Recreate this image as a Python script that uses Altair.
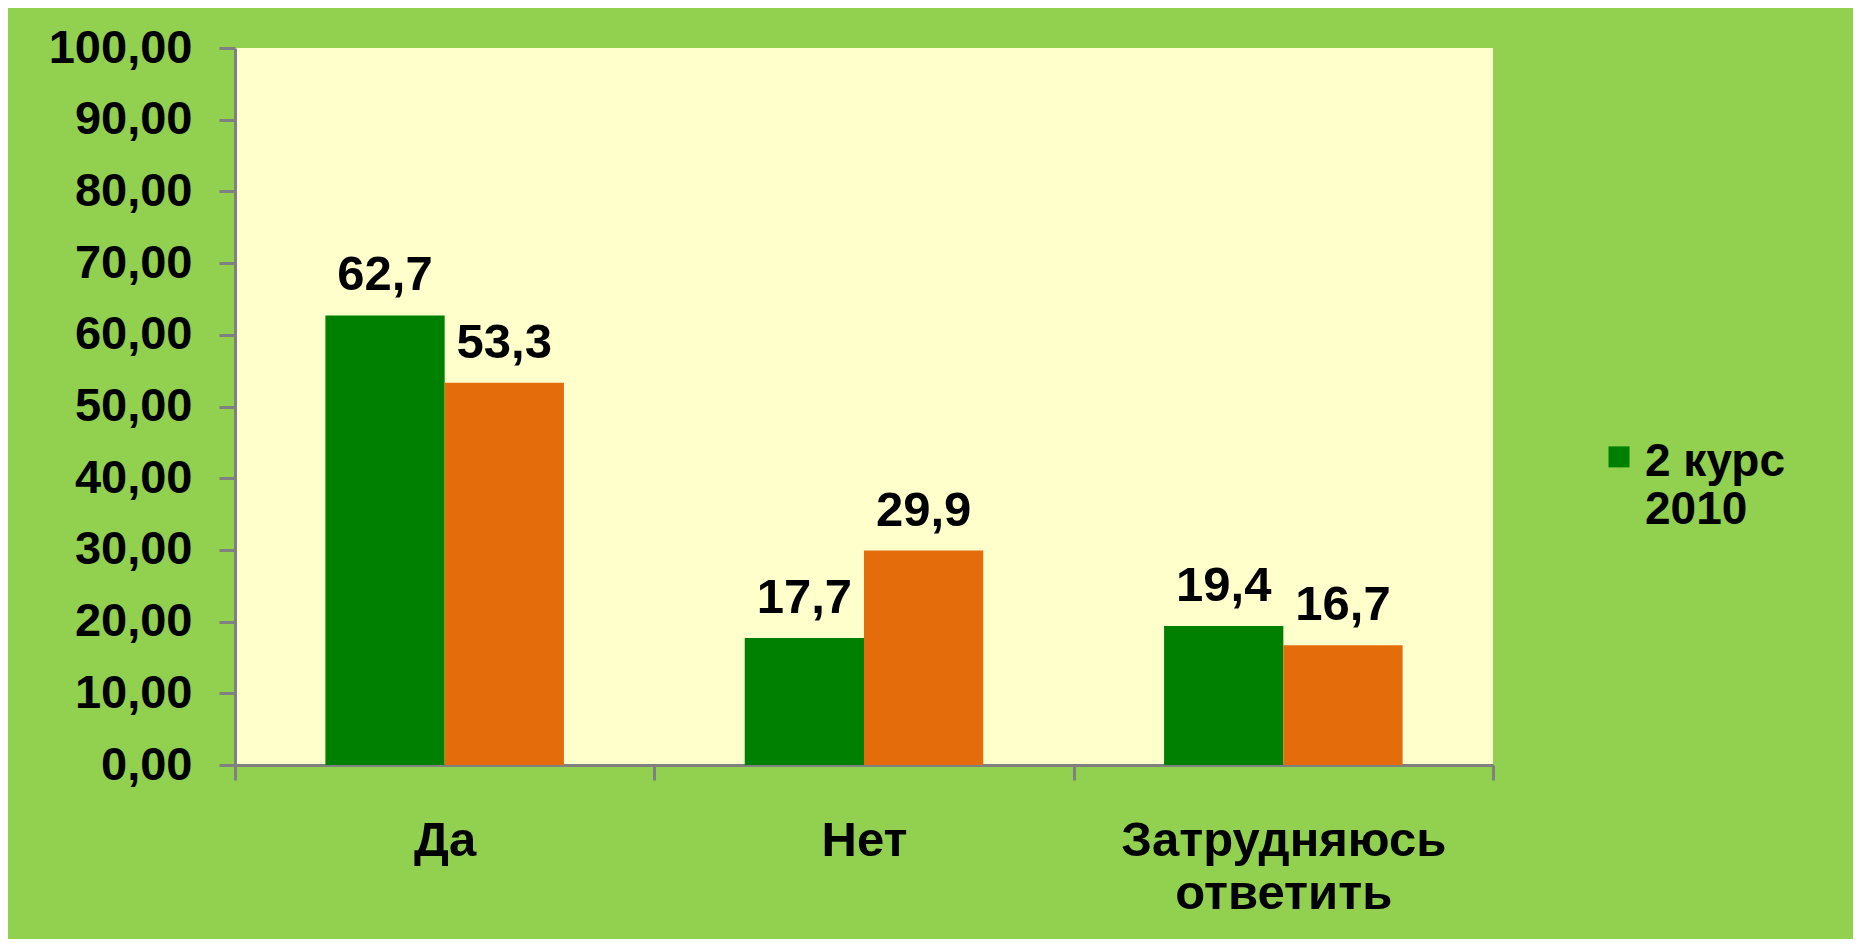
import altair as alt
import pandas as pd

categories = ["Да", "Нет", "Затрудняюсь ответить"]
series = ["2 курс 2010", "3 курс 2011"]
values_first = [62.7, 17.7, 19.4]
values_second = [53.3, 29.9, 16.7]
y_ticks = [0, 10, 20, 30, 40, 50, 60, 70, 80, 90, 100]

rows = []
for c, a, b in zip(categories, values_first, values_second):
    rows.append({"cat": c, "series": series[0], "value": a})
    rows.append({"cat": c, "series": series[1], "value": b})
df = pd.DataFrame(rows)

FONT = "Liberation Sans"
GRAY = "#808080"

x = alt.X(
    "cat:N", sort=categories, title=None,
    scale=alt.Scale(paddingInner=0, paddingOuter=0),
    axis=alt.Axis(
        labelAngle=0, labelFont=FONT, labelFontSize=49, labelFontWeight="bold",
        labelColor="black", labelExpr="split(datum.label, ' ')", labelLineHeight=53,
        labelPadding=36, labelLimit=0, tickBand="extent", tickSize=15, tickWidth=3,
        tickColor=GRAY, domainColor=GRAY, domainWidth=3, grid=False,
    ),
)
xo = alt.XOffset("series:N", sort=series,
                 scale=alt.Scale(paddingOuter=0.758, paddingInner=0))
y = alt.Y(
    "value:Q", title=None,
    scale=alt.Scale(domain=[0, 100], nice=False),
    axis=alt.Axis(
        values=y_ticks, labelExpr="replace(format(datum.value, '.2f'), '.', ',')",
        labelFont=FONT, labelFontSize=47, labelFontWeight="bold", labelColor="black",
        labelPadding=27, tickSize=16, tickWidth=3, tickColor=GRAY,
        domainColor=GRAY, domainWidth=3, grid=False,
    ),
)
color = alt.Color(
    "series:N", sort=series,
    scale=alt.Scale(domain=series, range=["#008000", "#E46C0A"]),
    legend=alt.Legend(
        values=[series[0]], orient="none", legendX=1361, legendY=405, title=None,
        symbolType="M-1,-2.82H1V-0.82H-1Z", symbolSize=441, symbolStrokeWidth=0,
        labelBaseline="alphabetic", labelFont=FONT, labelFontSize=46,
        labelFontWeight="bold", labelColor="black", labelLimit=0,
        labelOffset=3,
        labelExpr="[slice(datum.label, 0, lastindexof(datum.label, ' ')), slice(datum.label, lastindexof(datum.label, ' ') + 1)]",
    ),
)

base = alt.Chart(df).encode(x=x, xOffset=xo, y=y)

bars = base.mark_bar().encode(color=color)
labels = base.transform_calculate(
    lbl="replace(format(datum.value, '.1f'), '.', ',')"
).mark_text(
    baseline="alphabetic", dy=-25, font=FONT, fontSize=49, fontWeight="bold", color="black"
).encode(text="lbl:N")

chart = alt.layer(bars, labels).properties(
    width=1258, height=717,
    autosize=alt.AutoSizeParams(type="none"),
    padding={"left": 227, "top": 40, "right": 360, "bottom": 174},
    background="#92D050",
).configure_view(fill="#FFFFCC", strokeWidth=0)

chart.save("out.html", embed_options={"renderer": "svg", "actions": False})
